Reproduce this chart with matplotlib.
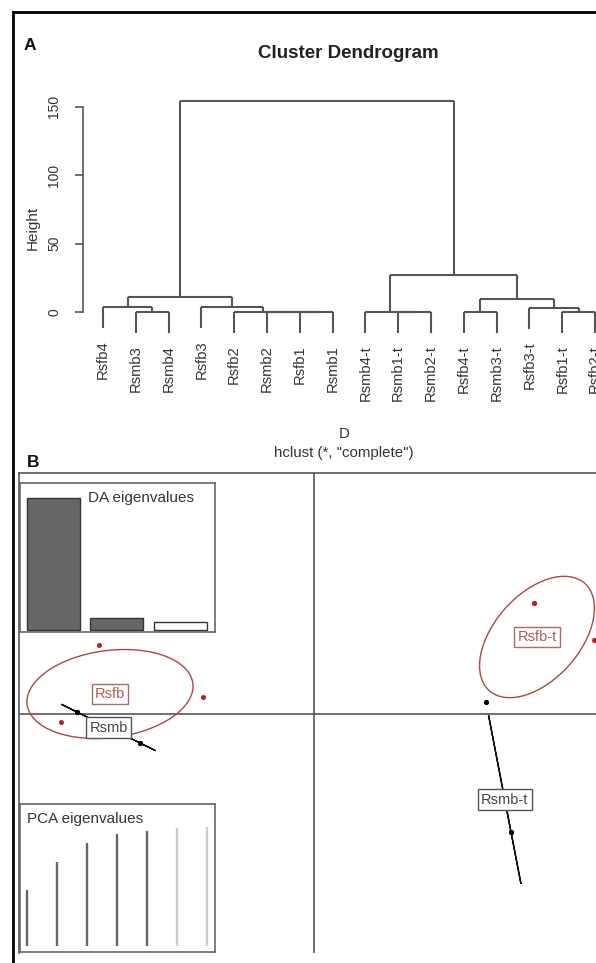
import matplotlib
matplotlib.use("Agg")
import matplotlib.pyplot as plt
import numpy as np
from matplotlib.patches import Ellipse
from matplotlib.lines import Line2D

plt.rcParams['font.family'] = ['Liberation Sans', 'DejaVu Sans']

# ~ Data ------------------------------------------------------------------------ #

# dendrogram (leaf order as drawn, R-style merge table)
leaf_labels = ["Rsfb4", "Rsmb3", "Rsmb4", "Rsfb3", "Rsfb2", "Rsmb2", "Rsfb1", "Rsmb1",
               "Rsmb4-t", "Rsmb1-t", "Rsmb2-t", "Rsfb4-t", "Rsmb3-t", "Rsfb3-t",
               "Rsfb1-t", "Rsfb2-t"]
merge_left = [-7, -6, -5, -2, -10, -9, -12, -15, -1, -4, -14, 7, 9, 6, 13]
merge_right = [-8, 1, 2, -3, -11, 5, -13, -16, 4, 3, 8, 11, 10, 12, 14]
merge_height = [0.0, 0.1, 0.2, 0.3, 0.0, 0.2, 0.2, 0.2, 3.9, 3.9, 3.2, 9.5, 11.2, 27.0, 154.0]
height_ticks = [0, 50, 100, 150]

# DAPC scatter (LD1, LD2)
groups = ["Rsfb", "Rsmb", "Rsfb-t", "Rsmb-t"]
group_colors = ["#A84848", "#111111", "#A84848", "#111111"]
ld1 = {
    "Rsfb": [-10.75, -5.55, -12.65, -11.85],
    "Rsmb": [-11.85, -11.85, -8.70, -8.70],
    "Rsfb-t": [11.00, 14.00, 11.00, 8.60],
    "Rsmb-t": [8.60, 9.85, 9.85, 9.85],
}
ld2 = {
    "Rsfb": [3.45, 0.85, -0.40, 0.10],
    "Rsmb": [0.10, 0.10, -1.45, -1.45],
    "Rsfb-t": [5.55, 3.70, 5.55, 0.60],
    "Rsmb-t": [0.60, -5.90, -5.90, -5.90],
}

da_eigenvalues = [218.6, 19.2, 13.1]
da_retained = [True, True, False]
pca_cumvar = [46.8, 70.1, 86.1, 93.6, 96.6, 98.7, 100.0]
pca_retained = [True, True, True, True, True, False, False]

# ~ Figure ---------------------------------------------------------------------- #

W, H = 596, 963
fig = plt.figure(figsize=(W / 100, H / 100), dpi=100)


def px_axes(x0, y0, x1, y1):
    return fig.add_axes([x0 / W, 1 - y1 / H, (x1 - x0) / W, (y1 - y0) / H])


line_col = "#555555"

# ~ Panel A: dendrogram ----------------------------------------------------------- #

ax = px_axes(83, 96, 620, 345)
ax.set_xlim(0.39, 16.76)
ax.set_ylim(-24.1, 157.7)

node_x = {}
node_h = {}
leaf_parent_h = {}
for i in range(len(merge_height)):
    xs = []
    for child in (merge_left[i], merge_right[i]):
        if child < 0:
            xs.append(-child)
            leaf_parent_h[-child] = merge_height[i]
        else:
            xs.append(node_x[child])
    node_x[i + 1] = np.mean(xs)
    node_h[i + 1] = merge_height[i]

hang = 0.1 * max(merge_height)
for i in range(len(merge_height)):
    h = merge_height[i]
    xs = []
    for child in (merge_left[i], merge_right[i]):
        if child < 0:
            cx, ch = -child, h - hang
        else:
            cx, ch = node_x[child], node_h[child]
        ax.plot([cx, cx], [ch, h], color=line_col, lw=1.5, solid_capstyle='butt')
        xs.append(cx)
    ax.plot(xs, [h, h], color=line_col, lw=1.5, solid_capstyle='butt')

for k, lab in enumerate(leaf_labels):
    idx = k + 1
    ax.annotate(lab, (idx, leaf_parent_h[idx] - hang), xytext=(0, -9),
                textcoords='offset points', rotation=90, ha='center', va='top',
                fontsize=10.6, color="#333333", annotation_clip=False)

for s in ["top", "right", "bottom"]:
    ax.spines[s].set_visible(False)
ax.spines["left"].set_bounds(0, 150)
ax.spines["left"].set_color(line_col)
ax.spines["left"].set_linewidth(1.2)
ax.set_xticks([])
ax.set_yticks(height_ticks)
ax.set_yticklabels([str(t) for t in height_ticks], rotation=90, va='center',
                   fontsize=10, color="#333333")
ax.tick_params(axis='y', length=5.5, width=1.2, color=line_col, pad=10)
ax.set_ylabel("Height", fontsize=11, color="#333333")
ax.yaxis.set_label_coords(-0.08, 0.47)
ax.patch.set_alpha(0)

fig.text(348 / W, 1 - 53 / H, "Cluster Dendrogram", ha='center', va='center',
         fontsize=13.5, fontweight='bold', color="#222222")
fig.text(344 / W, 1 - 434 / H, "D", ha='center', va='center', fontsize=10.8, color="#333333")
fig.text(344 / W, 1 - 453 / H, 'hclust (*, "complete")', ha='center', va='center',
         fontsize=10.8, color="#333333")
fig.text(30 / W, 1 - 46 / H, "A", ha='center', va='center', fontsize=12.5,
         fontweight='bold', color="#111111")
fig.text(33 / W, 1 - 462 / H, "B", ha='center', va='center', fontsize=12.5,
         fontweight='bold', color="#111111")

# ~ Panel B: DAPC scatter --------------------------------------------------------- #

bx = px_axes(19, 473, 620, 953)
bx.set_xlim(-14.75, 15.3)
bx.set_ylim(-11.95, 12.05)
bx.axhline(0, color=line_col, lw=1.2, zorder=1)
bx.axvline(0, color=line_col, lw=1.2, zorder=1)
for s in bx.spines.values():
    s.set_color(line_col)
    s.set_linewidth(1.2)
bx.spines["bottom"].set_visible(False)
bx.set_xticks([])
bx.set_yticks([])


def cov_ellipse(xs, ys, color, k=1.5):
    xs, ys = np.asarray(xs), np.asarray(ys)
    cov = np.cov(xs, ys, bias=True)
    vals, vecs = np.linalg.eigh(cov)
    vals = np.clip(vals, 0, None)
    order = vals.argsort()[::-1]
    vals, vecs = vals[order], vecs[:, order]
    angle = np.degrees(np.arctan2(vecs[1, 0], vecs[0, 0]))
    return Ellipse((xs.mean(), ys.mean()), 2 * k * np.sqrt(vals[0]), 2 * k * np.sqrt(vals[1]),
                   angle=angle, fill=False, edgecolor=color, lw=1.0, zorder=2)


for g, col in zip(groups, group_colors):
    bx.add_patch(cov_ellipse(ld1[g], ld2[g], col))
for g, col in zip(groups, group_colors):
    dot_col = "#B22222" if col != "#111111" else "#000000"
    bx.scatter(ld1[g], ld2[g], s=13, color=dot_col, zorder=3, linewidths=0)
for g, col in zip(groups, group_colors):
    txt_col = "#B05A55" if col != "#111111" else "#444444"
    box_col = "#B06A65" if col != "#111111" else "#555555"
    bx.text(np.mean(ld1[g]), np.mean(ld2[g]), g, ha='center', va='center', fontsize=10.5,
            color=txt_col, zorder=4,
            bbox=dict(boxstyle='square,pad=0.22', facecolor='white', edgecolor=box_col, lw=1))

# DA eigenvalues inset
da = px_axes(20, 483, 215, 632)
da_x = [0.7 + 1.2 * i for i in range(len(da_eigenvalues))]
da.bar(da_x, da_eigenvalues, width=1.0,
       color=["#666666" if r else "white" for r in da_retained],
       edgecolor="#333333", linewidth=1)
da.set_xlim(0.07, 3.75)
da.set_ylim(-0.015 * max(da_eigenvalues), 1.114 * max(da_eigenvalues))
da.set_xticks([])
da.set_yticks([])
for s in da.spines.values():
    s.set_color("#666666")
    s.set_linewidth(1.2)
da.text(0.35, 0.9, "DA eigenvalues", transform=da.transAxes, ha='left', va='center',
        fontsize=11, color="#333333")

# PCA eigenvalues inset
pca = px_axes(20, 804, 215, 952)
pca_x = np.arange(1, len(pca_cumvar) + 1)
pca.vlines(pca_x, 0, pca_cumvar, colors=["#666666" if r else "#CCCCCC" for r in pca_retained],
           linewidth=1.7)
pca.set_xlim(0.78, 7.26)
pca.set_ylim(-5.3, 119)
pca.set_xticks([])
pca.set_yticks([])
for s in pca.spines.values():
    s.set_color("#666666")
    s.set_linewidth(1.2)
pca.text(0.035, 0.9, "PCA eigenvalues", transform=pca.transAxes, ha='left', va='center',
         fontsize=11, color="#333333")

# outer black frame (left and top)
fig.add_artist(Line2D([13 / W, 13 / W], [0, 1 - 12 / H], color="black", lw=2))
fig.add_artist(Line2D([13 / W, 1], [1 - 12 / H, 1 - 12 / H], color="black", lw=2))

fig.savefig("out.png", dpi=100)
